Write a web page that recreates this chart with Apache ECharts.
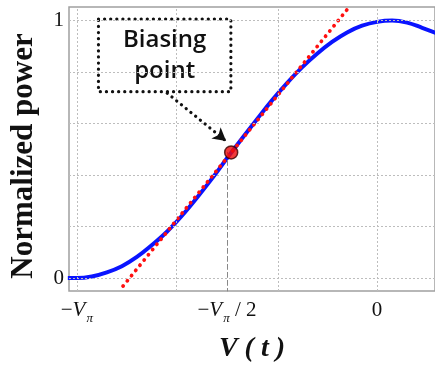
<!DOCTYPE html>
<html>
<head>
<meta charset="utf-8">
<script src="https://cdn.jsdelivr.net/npm/echarts@6/dist/echarts.min.js"></script>
<style>
html,body{margin:0;padding:0;background:#fff;}
#chart{width:435px;height:368px;}
</style>
</head>
<body>
<div id="chart"></div>
<script>
// ---- data (x in units of V_pi) ----
const voltage = [-1.03, -1.0, -0.95, -0.9, -0.85, -0.8, -0.75, -0.7, -0.65, -0.6, -0.55, -0.5, -0.45, -0.4, -0.35, -0.3, -0.25, -0.2, -0.15, -0.1, -0.05, 0, 0.05, 0.1, 0.15, 0.2];
const power   = [0.0, 0.0, 0.006, 0.022, 0.046, 0.082, 0.128, 0.18, 0.242, 0.312, 0.386, 0.465, 0.542, 0.617, 0.69, 0.757, 0.818, 0.871, 0.917, 0.954, 0.98, 0.995, 1.0, 0.992, 0.972, 0.95];
const tangentX = [-0.846, -0.101];
const tangentY = [-0.031, 1.041];
const biasPoint = [-0.486, 0.488];
const biasGuideX = -0.5;
const xTickValues = [-1, -0.5, 0];
const xTickLabels = ['{m|−}{v|V}{s|π}', '{m|−}{v|V}{s|π}{t| / 2}', '{t|0}'];
const yTickValues = [0, 1];
const yTickLabels = ['0', '1'];
const xGridValues = [-1, -0.6667, -0.3333, 0];
const yGridValues = [0, 0.2, 0.4, 0.6, 0.8, 1];
const annotationText = 'Biasing\npoint';
const annotationBox = [[-0.928, 1.006], [-0.487, 0.724]];
const annotationArrow = [[-0.699, 0.718], [-0.503, 0.532]];

const serif = "'Liberation Serif', 'Times New Roman', serif";
const chart = echarts.init(document.getElementById('chart'), null, {renderer: 'canvas'});

const gridMarks = [];
xGridValues.forEach(v => gridMarks.push({xAxis: v}));
yGridValues.forEach(v => gridMarks.push({yAxis: v}));

chart.setOption({
  backgroundColor: '#fff',
  animation: false,
  grid: {left: 67, top: 7, width: 373, height: 285, show: true, borderColor: '#a0a0a0', borderWidth: 1.5, backgroundColor: '#fff'},
  xAxis: {
    type: 'value', min: -1.0261, max: 0.1928,
    axisLine: {show: false}, axisTick: {show: false}, splitLine: {show: false},
    axisLabel: {
      customValues: xTickValues, margin: 9,
      formatter: v => { const i = xTickValues.findIndex(t => Math.abs(t - v) < 1e-6); return i < 0 ? '' : xTickLabels[i]; },
      rich: {
        m: {fontFamily: serif, fontSize: 21, color: '#111', lineHeight: 24, verticalAlign: 'top'},
        v: {fontFamily: serif, fontSize: 21, fontStyle: 'italic', color: '#111', lineHeight: 24, verticalAlign: 'top'},
        s: {fontFamily: serif, fontSize: 13, fontStyle: 'italic', color: '#111', lineHeight: 14, padding: [13, 0, 0, 1]},
        t: {fontFamily: serif, fontSize: 21, color: '#111', lineHeight: 24, verticalAlign: 'top'}
      }
    },
    name: 'V ( t )', nameLocation: 'middle', nameGap: 44,
    nameTextStyle: {fontFamily: serif, fontSize: 28, fontWeight: 'bold', fontStyle: 'italic', color: '#111'}
  },
  yAxis: {
    type: 'value', min: -0.0503, max: 1.0527,
    axisLine: {show: false}, axisTick: {show: false}, splitLine: {show: false},
    axisLabel: {
      customValues: yTickValues, margin: 5,
      formatter: v => { const i = yTickValues.findIndex(t => Math.abs(t - v) < 1e-6); return i < 0 ? '' : yTickLabels[i]; },
      fontFamily: serif, fontSize: 21, color: '#111'
    },
    name: 'Normalized power', nameLocation: 'middle', nameGap: 30, nameRotate: 90,
    nameTextStyle: {fontFamily: serif, fontSize: 31, fontWeight: 'bold', color: '#111', padding: [0, 14, 0, 0]}
  },
  series: [
    {
      type: 'line', data: [], silent: true, z: 1,
      markLine: {silent: true, symbol: ['none', 'none'], label: {show: false},
        lineStyle: {color: '#bdbdbd', width: 1, type: [2, 2]}, data: gridMarks}
    },
    {
      type: 'line', data: [], silent: true, z: 2,
      markArea: {silent: true,
        itemStyle: {color: 'rgba(255,255,255,0)', borderColor: '#111', borderWidth: 3.2, borderType: [0.1, 6], borderCap: 'round'},
        label: {show: true, position: 'inside', formatter: annotationText, fontFamily: "'Open Sans', sans-serif", fontWeight: 600, fontSize: 24, lineHeight: 31, color: '#111'},
        data: [[{coord: annotationBox[0]}, {coord: annotationBox[1]}]]
      },
      markLine: {silent: true, symbol: ['none', 'arrow'], symbolSize: [11, 13], label: {show: false},
        lineStyle: {color: '#111', width: 3.2, type: [0.1, 6], cap: 'round'},
        data: [[{coord: annotationArrow[0]}, {coord: annotationArrow[1]}],
               [{coord: [biasGuideX, biasPoint[1]], lineStyle: {color: '#888', width: 1, type: [5, 3]}, symbol: 'none'}, {coord: [biasGuideX, -0.0503], symbol: 'none'}]]
      }
    },
    {
      type: 'line', name: 'power', z: 3,
      data: voltage.map((x, i) => [x, power[i]]),
      smooth: 0.4, showSymbol: false, symbol: 'none', clip: true,
      lineStyle: {color: '#0a14ff', width: 4}
    },
    {
      type: 'line', name: 'tangent', z: 4,
      data: tangentX.map((x, i) => [x, tangentY[i]]),
      showSymbol: false, symbol: 'none',
      lineStyle: {color: '#ff1010', width: 3.8, type: [0.1, 6.6], cap: 'round'}
    },
    {
      type: 'scatter', z: 5,
      data: [biasPoint], symbol: 'circle', symbolSize: 13,
      itemStyle: {color: '#ee0a0a', borderColor: '#3a0000', borderWidth: 1.5}
    }
  ]
});
</script>
</body>
</html>
